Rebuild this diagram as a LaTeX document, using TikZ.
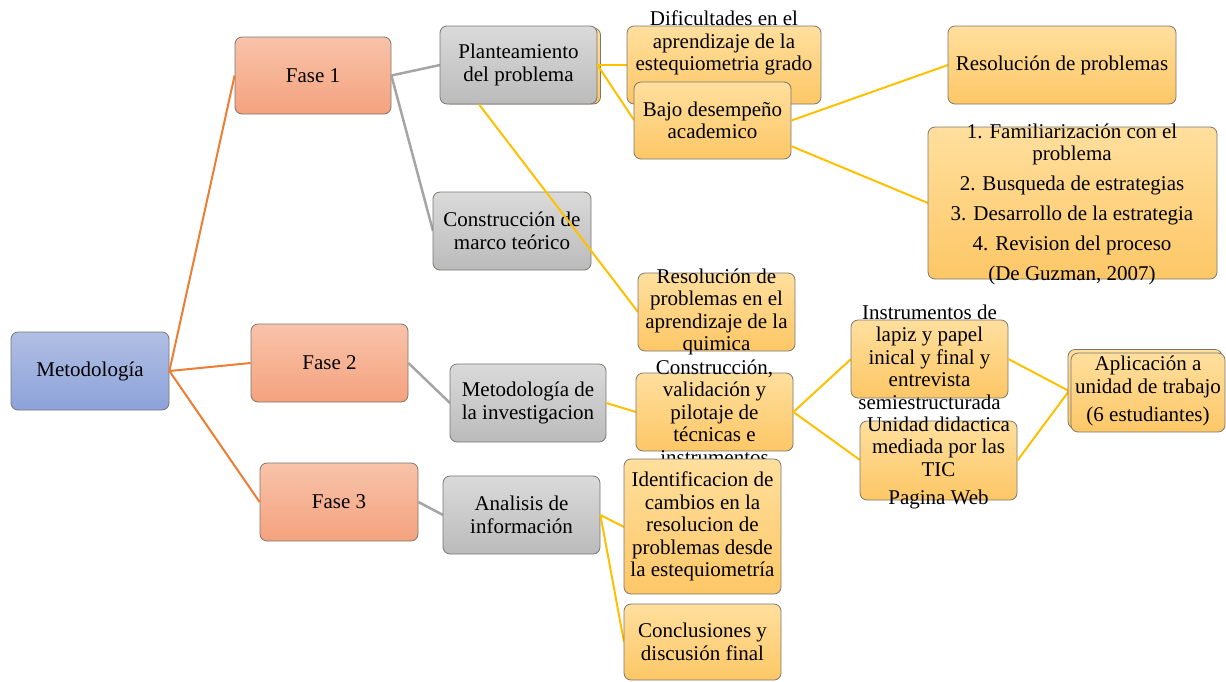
\documentclass[tikz,border=0pt]{standalone}
\usepackage{fontspec}
\setmainfont{Liberation Serif}
\usetikzlibrary{calc}
\definecolor{bluetop}{HTML}{B1BFE5}
\definecolor{bluebot}{HTML}{8CA2D9}
\definecolor{saltop}{HTML}{F8C3AA}
\definecolor{salbot}{HTML}{F4A27E}
\definecolor{graytop}{HTML}{DADADA}
\definecolor{graybot}{HTML}{BBBBBB}
\definecolor{yeltop}{HTML}{FFDF9E}
\definecolor{yelbot}{HTML}{FDC766}
\definecolor{borderc}{HTML}{7A7670}
\definecolor{orangeline}{HTML}{ED7D31}
\definecolor{grayline}{HTML}{A5A5A5}
\definecolor{yelline}{HTML}{FFC000}
\newcommand\mybox[7]{%
  \node[#2, minimum width={#5-#3}, minimum height={#6-#4}] (#1) at ({(#3+#5)/2},{(#4+#6)/2}) {};
  \node[txt] (#1t) at (#1.center) {#7};}
\begin{document}
\begin{tikzpicture}[x=1pt,y=-1pt,
  bbase/.style={draw=borderc, line width=0.8pt, rounded corners=7pt, inner sep=0pt},
  blueb/.style={bbase, top color=bluetop, bottom color=bluebot},
  salb/.style={bbase, top color=saltop, bottom color=salbot},
  grayb/.style={bbase, top color=graytop, bottom color=graybot},
  yelb/.style={bbase, top color=yeltop, bottom color=yelbot},
  txt/.style={align=center, font=\fontsize{21}{22.5}\selectfont, inner sep=0pt},
  orl/.style={draw=orangeline, line width=2pt},
  grl/.style={draw=grayline, line width=2.5pt},
  yel/.style={draw=yelline, line width=2pt}]
\useasboundingbox (0,0) rectangle (1226,681);

% ---------- boxes (level 0/1/2) ----------
\mybox{met}{blueb}{11}{332}{169}{410}{Metodología}
\mybox{f1}{salb}{235}{37}{391}{114}{Fase 1}
\mybox{f2}{salb}{251}{324}{408}{402}{Fase 2}
\mybox{f3}{salb}{260}{463}{418}{541}{Fase 3}

% connectors level 0 -> 1 -> 2
\draw[orl] (met.east) -- (f1.west);
\draw[orl] (met.east) -- (f2.west);
\draw[orl] (met.east) -- (f3.west);
\draw[grl] (f1.east) -- (440,65) coordinate (planin);
\draw[grl] (f1.east) -- (433,231) coordinate (cmtin);
\draw[grl] (f2.east) -- (450,403) coordinate (minvin);
\draw[grl] (f3.east) -- (443,515) coordinate (anain);

\node[yelb, minimum width=157, minimum height=76] (planb) at (522,66) {};
\mybox{plan}{grayb}{440}{26}{597}{104}{Planteamiento\\del problema}
\mybox{cmt}{grayb}{433}{192}{591}{270}{Construcción de\\marco teórico}
\mybox{minv}{grayb}{450}{364}{606}{442}{Metodología de\\la investigacion}
\mybox{ana}{grayb}{443}{476}{600}{554}{Analisis de\\información}

% ---------- yellow connectors ----------
\coordinate (plansouth) at ($(plan.south west)!0.25!(plan.south east)$);
\draw[yel] (plan.east) -- (627,65) coordinate (difin);
\draw[yel] (plan.east) -- (634,120) coordinate (bajoin);
\draw[yel] (plansouth) -- (638,312) coordinate (rqin);
\draw[yel] (minv.east) -- (636,412) coordinate (cvpin);
\draw[yel] (ana.east) -- (624,527) coordinate (idcin);
\draw[yel] (ana.east) -- (624,642) coordinate (conin);

\mybox{dif}{yelb}{627}{26}{821}{104}{}
\node[txt] (dift) at (724,43) {Dificultades en el\\aprendizaje de la\\estequiometria grado};
\mybox{bajo}{yelb}{634}{82}{791}{159}{Bajo desempeño\\academico}
\mybox{rq}{yelb}{638}{273}{795}{351}{Resolución de\\problemas en el\\aprendizaje de la\\quimica}
\mybox{cvp}{yelb}{636}{373}{793}{451}{Construcción,\\validación y\\pilotaje de\\técnicas e\\instrumentos}
\mybox{idc}{yelb}{624}{459}{781}{594}{Identificacion de\\cambios en la\\resolucion de\\problemas desde\\la estequiometría}
\mybox{con}{yelb}{624}{604}{781}{680}{Conclusiones y\\discusión final}

\coordinate (bajolow) at ($(bajo.north east)!0.83!(bajo.south east)$);
\draw[yel] (bajo.east) -- (948,65) coordinate (rpin);
\draw[yel] (bajolow) -- (928,203) coordinate (famin);
\draw[yel] (cvp.east) -- (851,359) coordinate (insin);
\draw[yel] (cvp.east) -- (860,460) coordinate (uniin);

\mybox{rp}{yelb}{948}{26}{1176}{104}{Resolución de problemas}
\mybox{fam}{yelb}{928}{127}{1217}{279}{}
\node[txt] (famt) at (1072,204) {1. Familiarización con el\\problema\\[7.5pt]2. Busqueda de estrategias\\[7.5pt]3. Desarrollo de la estrategia\\[7.5pt]4. Revision del proceso\\[7pt](De Guzman, 2007)};
\mybox{ins}{yelb}{851}{320}{1008}{398}{}
\node[txt] (inst) at (929.5,357) {Instrumentos de\\lapiz y papel\\inical y final y\\entrevista\\semiestructurada};
\mybox{uni}{yelb}{860}{421}{1017}{500}{}
\node[txt] (unit) at (938.5,463) {Unidad didactica\\mediada por las\\TIC\\[6pt]Pagina Web};

\draw[yel] (ins.east) -- (1069,391) coordinate (aplin);
\draw[yel] (uni.east) -- (aplin);
\node[yelb, minimum width=154, minimum height=79] (aplb) at (1145,389) {};
\mybox{apl}{yelb}{1071}{353}{1225}{432}{}
\node[txt] (aplt) at (1148,391) {Aplicación a\\unidad de trabajo\\[6pt](6 estudiantes)};
\end{tikzpicture}
\end{document}
